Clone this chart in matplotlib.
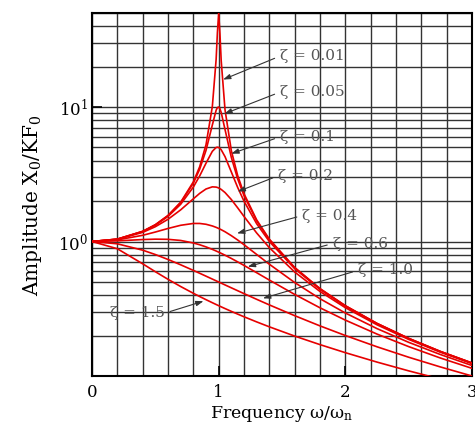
import matplotlib
matplotlib.use("Agg")
import matplotlib.pyplot as plt
from matplotlib.ticker import FixedLocator, LogLocator, MultipleLocator, NullFormatter

# frequency ratio w/wn
freq = [0, 0.2, 0.4, 0.5, 0.6, 0.7, 0.8, 0.85, 0.9, 0.95, 0.98, 0.99, 1.0, 1.01,
        1.02, 1.05, 1.1, 1.15, 1.2, 1.3, 1.4, 1.6, 1.8, 2.0, 2.25, 2.5, 2.75, 3.0]

# amplitude, one list per damping ratio
amp_001 = [1, 1.042, 1.190, 1.333, 1.562, 1.960, 2.775, 3.597, 5.240, 10.07, 22.6, 35.6, 50.0, 35.1,
           22.1, 9.56, 4.736, 3.093, 2.269, 1.448, 1.041, 0.641, 0.4464, 0.3333, 0.2461, 0.1905, 0.1524, 0.1250]
amp_005 = [1, 1.041, 1.189, 1.330, 1.556, 1.943, 2.712, 3.446, 4.757, 7.346, 9.461, 9.903, 10.0, 9.711,
           9.115, 6.815, 4.218, 2.921, 2.193, 1.424, 1.031, 0.6377, 0.4450, 0.3326, 0.2458, 0.1903, 0.1522, 0.1249]
amp_01 = [1, 1.041, 1.185, 1.322, 1.536, 1.891, 2.538, 3.073, 3.821, 4.683, 5.001, 5.025, 5.0, 4.926,
          4.809, 4.279, 3.288, 2.524, 1.995, 1.356, 1.000, 0.6279, 0.4408, 0.3304, 0.2447, 0.1896, 0.1518, 0.1246]
amp_02 = [1, 1.038, 1.169, 1.288, 1.463, 1.719, 2.076, 2.279, 2.457, 2.549, 2.538, 2.522, 2.5, 2.472,
          2.439, 2.313, 2.051, 1.780, 1.536, 1.157, 0.8998, 0.5931, 0.4250, 0.3221, 0.2403, 0.1871, 0.1503, 0.1236]
amp_04 = [1, 1.028, 1.112, 1.176, 1.250, 1.320, 1.362, 1.362, 1.343, 1.305, 1.274, 1.262, 1.25, 1.237,
          1.224, 1.182, 1.105, 1.026, 0.9469, 0.8012, 0.6779, 0.4956, 0.3755, 0.2941, 0.2251, 0.1780, 0.1445, 0.1197]
amp_06 = [1, 1.011, 1.034, 1.041, 1.038, 1.018, 0.9753, 0.9460, 0.9119, 0.8740, 0.8499, 0.8416, 0.8333, 0.8250,
          0.8165, 0.7910, 0.7482, 0.7056, 0.6641, 0.5862, 0.5168, 0.4042, 0.3214, 0.2603, 0.2050, 0.1654, 0.1361, 0.1140]
amp_10 = [1, 0.9615, 0.8621, 0.8, 0.7353, 0.6711, 0.6098, 0.5806, 0.5525, 0.5256, 0.5101, 0.5050, 0.5, 0.4950,
          0.4901, 0.4756, 0.4525, 0.4306, 0.4098, 0.3717, 0.3378, 0.2809, 0.2358, 0.2, 0.1649, 0.1379, 0.1168, 0.1]
amp_15 = [1, 0.8833, 0.6827, 0.5963, 0.5235, 0.4627, 0.4121, 0.3899, 0.3695, 0.3507, 0.3401, 0.3367, 0.3333, 0.3300,
          0.3268, 0.3173, 0.3024, 0.2886, 0.2757, 0.2525, 0.2321, 0.1981, 0.1711, 0.1491, 0.1269, 0.1092, 0.0949, 0.0830]

zeta_labels = ["0.01", "0.05", "0.1", "0.2", "0.4", "0.6", "1.0", "1.5"]
curves = [amp_001, amp_005, amp_01, amp_02, amp_04, amp_06, amp_10, amp_15]

plt.rcParams["font.family"] = "DejaVu Serif"
plt.rcParams["mathtext.fontset"] = "dejavuserif"

fig = plt.figure(figsize=(4.75, 4.3), dpi=100)
ax = fig.add_axes([92 / 475, 1 - 376 / 430, 380 / 475, 363 / 430])

for amp in curves:
    ax.plot(freq, amp, color="#e60000", lw=1.2, zorder=3)

ax.set_yscale("log")
ax.set_xlim(0, 3)
ax.set_ylim(0.1, 50)

# ticks: only 0..3 and 10^0, 10^1 labelled, grid on every minor step
ax.xaxis.set_major_locator(MultipleLocator(1))
ax.xaxis.set_minor_locator(MultipleLocator(0.2))
ax.yaxis.set_major_locator(FixedLocator([1, 10]))
ax.yaxis.set_minor_locator(LogLocator(base=10, subs=range(2, 10)))
ax.yaxis.set_minor_formatter(NullFormatter())
ax.set_yticklabels(["$10^0$", "$10^1$"])
ax.tick_params(which="major", direction="in", length=7, width=1.2, labelsize=12)
ax.tick_params(axis="x", which="major", pad=6)
ax.tick_params(axis="y", which="major", pad=3)
ax.tick_params(which="minor", length=0)
ax.grid(True, which="both", color="#333333", lw=1.0, zorder=1)
for s in ax.spines.values():
    s.set_linewidth(1.5)
    s.set_color("black")

ax.set_xlabel("Frequency ω/ω$_\\mathrm{n}$", fontsize=12.5, labelpad=2)
ax.set_ylabel("Amplitude X$_0$/KF$_0$", fontsize=14.5, labelpad=7)
ax.yaxis.set_label_coords(-0.125, 0.47)

# damping labels with arrows pointing at the curves
tips = [(1.035, 16), (1.045, 8.9), (1.1, 4.5), (1.15, 2.35), (1.145, 1.15), (1.23, 0.65), (1.35, 0.378), (0.88, 0.36)]
texts = [(1.484, 23.9), (1.484, 12.9), (1.484, 6.0), (1.47, 3.08), (1.66, 1.56), (1.9, 0.966), (2.1, 0.61), (0.14, 0.293)]
for lab, tip, pos in zip(zeta_labels, tips, texts):
    left = pos[0] > tip[0]
    ax.annotate("ζ = " + lab, xy=tip, xytext=pos, ha="left", va="center",
                fontsize=11, color="#555555", zorder=4,
                arrowprops=dict(arrowstyle="-|>,head_length=0.4,head_width=0.14",
                                color="#333333", lw=0.8,
                                relpos=(0, 0.5) if left else (1, 0.5),
                                shrinkA=2, shrinkB=0))

fig.savefig("out.png", dpi=100)
